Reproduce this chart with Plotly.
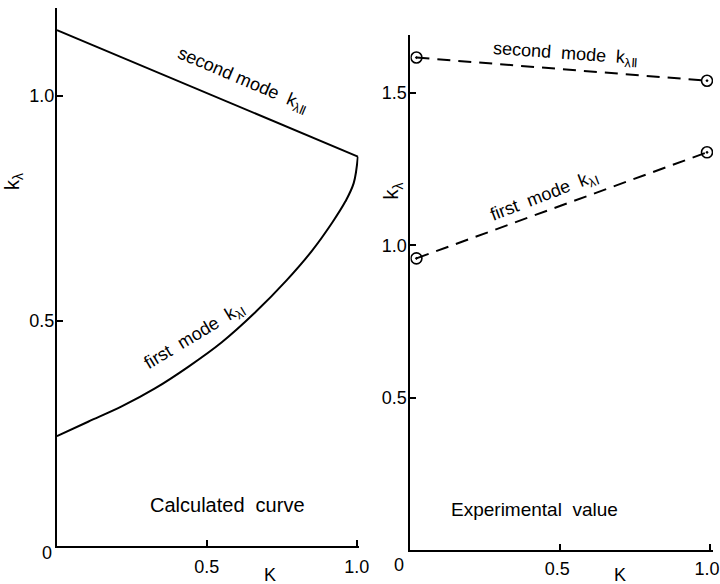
import plotly.graph_objects as go

# Left panel: calculated curves
calc_first_K = [0.0, 0.104, 0.216, 0.327, 0.438, 0.549, 0.66, 0.766, 0.85, 0.918, 0.962, 0.99, 1.004]
calc_first_k = [0.244, 0.276, 0.31, 0.350, 0.398, 0.452, 0.518, 0.59, 0.655, 0.718, 0.765, 0.806, 0.865]
calc_second_K = [0.0, 1.004]
calc_second_k = [1.146, 0.865]

# Right panel: experimental values
exp_K = [0.02, 0.99]
exp_first_k = [0.957, 1.305]
exp_second_k = [1.616, 1.54]

left_yticks = [0.5, 1.0]
right_yticks = [0.5, 1.0, 1.5]
xticks = [0.5, 1.0]

FONT = "Liberation Sans"
W, H = 720, 584          # reference frame used for positioning
W_PAGE = 730             # rendered width (capture is slightly narrowed horizontally)

fig = go.Figure()
fig.add_trace(go.Scatter(x=calc_second_K, y=calc_second_k, mode="lines",
                         line=dict(color="black", width=2), xaxis="x", yaxis="y"))
fig.add_trace(go.Scatter(x=calc_first_K, y=calc_first_k, mode="lines",
                         line=dict(color="black", width=2, shape="spline", smoothing=1.0),
                         xaxis="x", yaxis="y"))
for ys in (exp_second_k, exp_first_k):
    fig.add_trace(go.Scatter(x=exp_K, y=ys, mode="lines+markers",
                             line=dict(color="black", width=2, dash="13px,8px"),
                             marker=dict(symbol="circle-open-dot", size=11, color="black",
                                         line=dict(width=1.6, color="black")),
                             xaxis="x2", yaxis="y2"))

axis_common = dict(showline=True, linecolor="black", linewidth=2, ticks="inside",
                   ticklen=6, tickwidth=2, tickcolor="black", showgrid=False,
                   zeroline=False, tickfont=dict(family=FONT, size=18, color="black"))

fig.update_layout(
    width=W_PAGE, height=H, margin=dict(l=0, r=0, t=0, b=0),
    paper_bgcolor="white", plot_bgcolor="white", showlegend=False,
    xaxis=dict(domain=[57 / W, 359 / W], range=[0, 1.006], tickvals=xticks,
               ticktext=["0.5", "1.0"], ticklabelstandoff=3, **axis_common),
    yaxis=dict(domain=[(H - 546) / H, (H - 8) / H], range=[0, 1.195],
               tickvals=left_yticks, ticktext=["0.5", "1.0"], ticklabelstandoff=-3,
               **axis_common),
    xaxis2=dict(domain=[411 / W, 714 / W], range=[0, 1.01], tickvals=xticks,
                ticktext=["0.5", "1.0"], ticklabelstandoff=1, ticklabelshift=-3,
                anchor="y2", **axis_common),
    yaxis2=dict(domain=[(H - 550) / H, (H - 35) / H], range=[0, 1.69],
                tickvals=right_yticks, ticktext=["0.5", "1.0", "1.5"], anchor="x2",
                ticklabelstandoff=-2, **axis_common),
)

def ann(text, x, y, angle=0, size=19):
    fig.add_annotation(text=text, x=x / W, y=1 - y / H, xref="paper", yref="paper",
                       xanchor="center", yanchor="middle",
                       showarrow=False, textangle=angle,
                       font=dict(family=FONT, size=size, color="black"))

ann("0", 47, 553, size=18)
ann("0", 400, 565, size=18)
ann("K", 270, 575, size=18)
ann("K", 621, 575, size=18)
ann("k<sub>λ</sub>", 13, 181, angle=-90, size=20)
ann("k<sub>λ</sub>", 393, 191, angle=-90, size=20)
ann("second mode  k<sub>λⅡ</sub>", 243, 80, angle=23, size=18)
ann("first  mode  k<sub>λⅠ</sub>", 195, 336, angle=-31, size=18)
ann("second  mode  k<sub>λⅡ</sub>", 566, 54, angle=4, size=18)
ann("first  mode  k<sub>λⅠ</sub>", 545, 197, angle=-21, size=18)
ann("Calculated  curve", 228, 505, size=20)
ann("Experimental  value", 535, 509, size=19)

fig.write_html(
    "out.html",
    config={"displayModeBar": False},
    post_script=(
        "document.documentElement.style.margin='0';"
        "document.documentElement.style.overflow='hidden';"
        "document.body.style.margin='0';document.body.style.overflow='hidden';"
        "Plotly.relayout(document.getElementById('{plot_id}'), {width: 730, height: 584});"
    ),
)
